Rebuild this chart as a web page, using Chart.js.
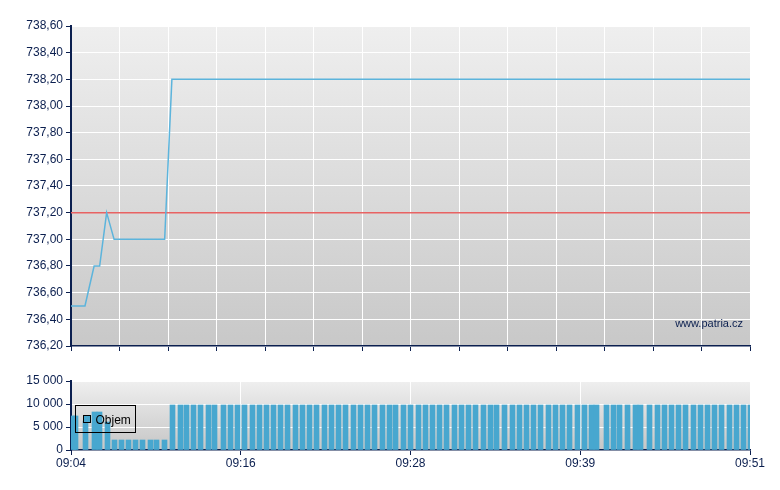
<!DOCTYPE html>
<html>
<head>
<meta charset="utf-8">
<script src="https://cdn.jsdelivr.net/npm/chart.js@4"></script>
<style>
body { margin: 0; background: #fff; }
#top { position: absolute; left: 0; top: 0; }
#bottom { position: absolute; left: 0; top: 360px; }
</style>
</head>
<body>
<div id="top"><canvas id="price-chart" width="780" height="360"></canvas></div>
<div id="bottom"><canvas id="volume-chart" width="780" height="130"></canvas></div>
<script>
// session 09:04 - 09:51, x values are seconds after 09:04:00
const sessionLength = 2820;
const timeLabels = ['09:04', '09:16', '09:28', '09:39', '09:51'];

// price line
const priceTimes = [0, 58, 96, 119, 148, 179, 389, 419, 2820];
const priceValues = [736.5, 736.5, 736.8, 736.8, 737.2, 737.0, 737.0, 738.2, 738.2];
const refPrice = 737.2;

// volume bars
const volTimes = [10, 19, 59, 98, 118, 152, 181, 211, 238, 266, 296, 329, 357, 387, 422, 453,
  480, 509, 539, 572, 597, 633, 662, 691, 721, 753, 783, 813, 841, 871, 899, 932,
  960, 990, 1020, 1053, 1082, 1111, 1140, 1173, 1202, 1231, 1261, 1294, 1323, 1348, 1381, 1410,
  1443, 1472, 1501, 1530, 1560, 1593, 1622, 1651, 1680, 1713, 1742, 1767, 1800, 1834, 1863, 1892,
  1921, 1950, 1983, 2012, 2041, 2070, 2104, 2133, 2162, 2183, 2224, 2253, 2278, 2311, 2345, 2365,
  2403, 2436, 2465, 2494, 2523, 2552, 2585, 2615, 2644, 2673, 2702, 2735, 2764, 2793, 2820];
const volValues = [7400, 7400, 6200, 8300, 8300, 6000, 2200, 2200, 2200, 2200, 2200, 2200, 2200, 2200, 9800, 9800,
  9800, 9800, 9800, 9800, 9800, 9800, 9800, 9800, 9800, 9800, 9800, 9800, 9800, 9800, 9800, 9800,
  9800, 9800, 9800, 9800, 9800, 9800, 9800, 9800, 9800, 9800, 9800, 9800, 9800, 9800, 9800, 9800,
  9800, 9800, 9800, 9800, 9800, 9800, 9800, 9800, 9800, 9800, 9800, 9800, 9800, 9800, 9800, 9800,
  9800, 9800, 9800, 9800, 9800, 9800, 9800, 9800, 9800, 9800, 9800, 9800, 9800, 9800, 9800, 9800,
  9800, 9800, 9800, 9800, 9800, 9800, 9800, 9800, 9800, 9800, 9800, 9800, 9800, 9800, 9800];

const navy = '#0b1f4f';

Chart.defaults.font.family = "'Liberation Sans', Arial, sans-serif";
Chart.defaults.font.size = 12;
Chart.defaults.color = navy;

// gradient behind the plot
const plotBg = {
    id: 'plotBg',
    beforeDraw(chart, args, opts) {
        const { ctx, chartArea: a } = chart;
        const g = ctx.createLinearGradient(0, a.top, 0, a.bottom);
        g.addColorStop(0, opts.from);
        g.addColorStop(1, opts.to);
        ctx.save();
        ctx.fillStyle = g;
        ctx.fillRect(a.left, a.top, a.width, a.height);
        ctx.restore();
    }
};

const watermark = {
    id: 'watermark',
    afterDraw(chart) {
        const { ctx, chartArea: a } = chart;
        ctx.save();
        ctx.font = "11px 'Liberation Sans', Arial, sans-serif";
        ctx.fillStyle = navy;
        ctx.textAlign = 'right';
        ctx.textBaseline = 'middle';
        ctx.fillText('www.patria.cz', a.right - 7, a.bottom - 22);
        ctx.restore();
    }
};

// keep bar edges on whole pixels so the gaps stay crisp
const snapBars = {
    id: 'snapBars',
    afterDatasetsUpdate(chart) {
        chart.getDatasetMeta(0).data.forEach((el) => {
            el.x = Math.floor(el.x) + 0.5;
            el.y = Math.round(el.y);
        });
    }
};

// small boxed legend inside the volume plot
const boxLegend = {
    id: 'boxLegend',
    afterDraw(chart) {
        const { ctx, chartArea: a } = chart;
        const x = a.left + 4.5, y = a.top + 24.5;
        ctx.save();
        ctx.strokeStyle = '#000';
        ctx.lineWidth = 1;
        ctx.strokeRect(x, y, 60, 27);
        ctx.fillStyle = chart.data.datasets[0].backgroundColor;
        ctx.fillRect(x + 8, y + 10, 7, 7);
        ctx.strokeRect(x + 8, y + 10, 7, 7);
        ctx.fillStyle = '#000';
        ctx.font = "12px 'Liberation Sans', Arial, sans-serif";
        ctx.textBaseline = 'middle';
        ctx.fillText(chart.data.datasets[0].label, x + 20, y + 15);
        ctx.restore();
    }
};

function evenTicks(n) {
    return (scale) => {
        scale.ticks = [];
        for (let i = 0; i <= n; i++) scale.ticks.push({ value: i * sessionLength / n });
    };
}

function spaced(v) {
    return String(v).replace(/\B(?=(\d{3})+(?!\d))/g, ' ');
}

// price chart
new Chart(document.getElementById('price-chart'), {
    type: 'line',
    data: {
        datasets: [{
            label: 'Cena',
            data: priceTimes.map((t, i) => ({ x: t, y: priceValues[i] })),
            borderColor: '#5cb4dc',
            borderWidth: 1.5,
            pointRadius: 0,
            tension: 0
        }, {
            label: 'Reference',
            data: [{ x: 0, y: refPrice }, { x: sessionLength, y: refPrice }],
            borderColor: '#e86262',
            borderWidth: 1.5,
            pointRadius: 0
        }]
    },
    options: {
        responsive: false,
        animation: false,
        layout: { padding: { left: 0, right: 30, top: 26, bottom: 0 } },
        plugins: {
            legend: { display: false },
            tooltip: { enabled: false },
            plotBg: { from: '#efefef', to: '#c8c8c8' }
        },
        scales: {
            x: {
                type: 'linear',
                min: 0,
                max: sessionLength,
                afterBuildTicks: evenTicks(14),
                afterFit: (s) => { s.height = 14; },
                ticks: { display: false },
                grid: { color: '#ffffff', tickColor: navy, tickLength: 5 },
                border: { color: navy, width: 1.5 }
            },
            y: {
                min: 736.2,
                max: 738.6,
                afterFit: (s) => { s.width = 71; },
                ticks: {
                    stepSize: 0.2,
                    padding: 3,
                    callback: (v) => v.toFixed(2).replace('.', ',')
                },
                grid: { color: '#ffffff', tickColor: navy, tickLength: 5 },
                border: { color: navy, width: 2 }
            }
        }
    },
    plugins: [plotBg, watermark]
});

// volume chart
new Chart(document.getElementById('volume-chart'), {
    type: 'bar',
    data: {
        datasets: [{
            label: 'Objem',
            data: volTimes.map((t, i) => ({ x: t, y: volValues[i] })),
            backgroundColor: '#48a7cf',
            barThickness: 5,
            clip: 0
        }]
    },
    options: {
        responsive: false,
        animation: false,
        layout: { padding: { left: 0, right: 30, top: 21, bottom: 0 } },
        plugins: {
            legend: { display: false },
            tooltip: { enabled: false },
            plotBg: { from: '#efefef', to: '#c6c6c6' }
        },
        scales: {
            x: {
                type: 'linear',
                min: 0,
                max: sessionLength,
                offset: false,
                afterBuildTicks: evenTicks(4),
                afterFit: (s) => { s.height = 40; },
                ticks: {
                    maxRotation: 0,
                    padding: 1,
                    callback: (v, i) => timeLabels[i]
                },
                grid: { offset: false, color: '#ffffff', tickColor: navy, tickLength: 5 },
                border: { color: navy, width: 1.5 }
            },
            y: {
                min: 0,
                max: 15000,
                afterFit: (s) => { s.width = 71; },
                ticks: { stepSize: 5000, padding: 3, callback: (v) => spaced(v) },
                grid: { color: '#ffffff', tickColor: navy, tickLength: 5 },
                border: { color: navy, width: 2 }
            }
        }
    },
    plugins: [plotBg, snapBars, boxLegend]
});
</script>
</body>
</html>
